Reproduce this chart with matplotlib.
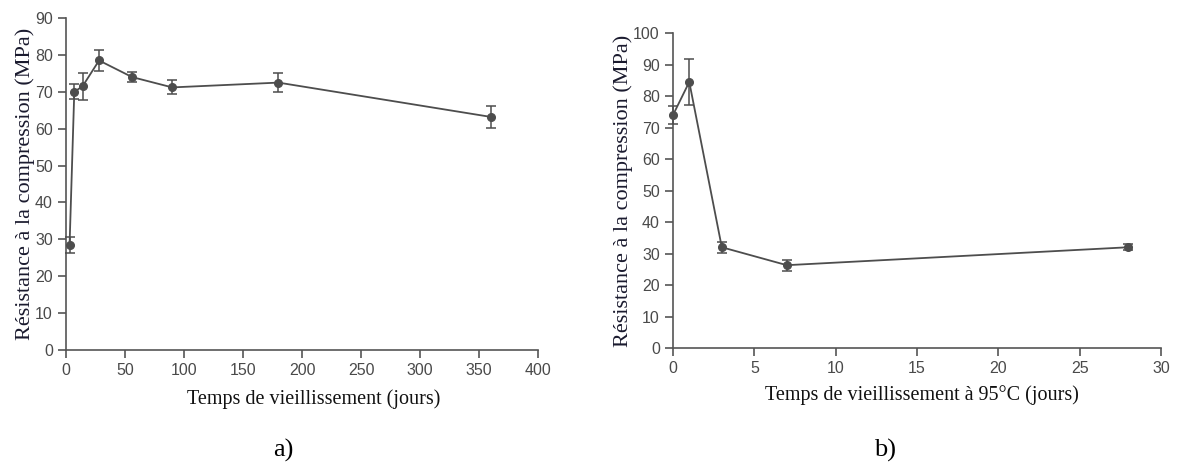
import matplotlib.pyplot as plt

# a) ageing at ambient temperature
jours_a = [3, 7, 14, 28, 56, 90, 180, 360]
resist_a = [28.5, 70, 71.5, 78.5, 74, 71.2, 72.5, 63.2]
err_a = [2.2, 2.0, 3.6, 2.8, 1.3, 1.9, 2.5, 3.0]

# b) ageing at 95 C
jours_b = [0, 1, 3, 7, 28]
resist_b = [74, 84.5, 32, 26.3, 32]
err_b = [3.0, 7.3, 1.8, 1.8, 1.0]

ylab = "Résistance à la compression (MPa)"
gris = "#555555"
serif = ["Liberation Serif", "DejaVu Serif"]
sans = ["Liberation Sans", "DejaVu Sans"]

fig = plt.figure(figsize=(11.77, 4.63), dpi=100)
ax1 = fig.add_axes([0.0561, 0.244, 0.401, 0.717])
ax2 = fig.add_axes([0.5718, 0.2484, 0.4146, 0.680])


def style(ax, xlim, xticks, ylim, yticks):
    ax.set_xlim(*xlim)
    ax.set_ylim(*ylim)
    ax.set_xticks(xticks)
    ax.set_yticks(yticks)
    for s in ["top", "right"]:
        ax.spines[s].set_visible(False)
    for s in ["left", "bottom"]:
        ax.spines[s].set_color(gris)
        ax.spines[s].set_linewidth(1.2)
    ax.tick_params(colors=gris, labelcolor="#4a4a4a", length=6, width=1.2,
                   labelsize=11.5)
    for lab in ax.get_xticklabels() + ax.get_yticklabels():
        lab.set_family(sans)


for ax, x, y, e in [(ax1, jours_a, resist_a, err_a), (ax2, jours_b, resist_b, err_b)]:
    ax.errorbar(x, y, yerr=e, color="#4d4d4d", ecolor="#4d4d4d", lw=1.3,
                elinewidth=1.1, capsize=3.5, capthick=1.1, marker="o",
                markersize=5.5, clip_on=False, zorder=3)

style(ax1, (0, 400), range(0, 401, 50), (0, 90), range(0, 91, 10))
style(ax2, (0, 30), range(0, 31, 5), (0, 100), range(0, 101, 10))

ax1.set_ylabel(ylab, family=serif, fontsize=16, color="#1a1a2e", labelpad=0)
ax2.set_ylabel(ylab, family=serif, fontsize=16, color="#1a1a2e", labelpad=0)
ax1.set_xlabel("Temps de vieillissement (jours)", family=serif, fontsize=14.5,
               color="#111111")
ax2.set_xlabel("Temps de vieillissement à 95°C (jours)", family=serif,
               fontsize=14.5, color="#111111")
ax1.xaxis.set_label_coords(0.525, -0.118)
ax2.xaxis.set_label_coords(0.51, -0.118)

fig.text(283 / 1177, 1 - 450 / 463, "a)", family=serif, fontsize=19,
         ha="center", va="center")
fig.text(885 / 1177, 1 - 450 / 463, "b)", family=serif, fontsize=19,
         ha="center", va="center")

fig.savefig("out.png", dpi=100)
